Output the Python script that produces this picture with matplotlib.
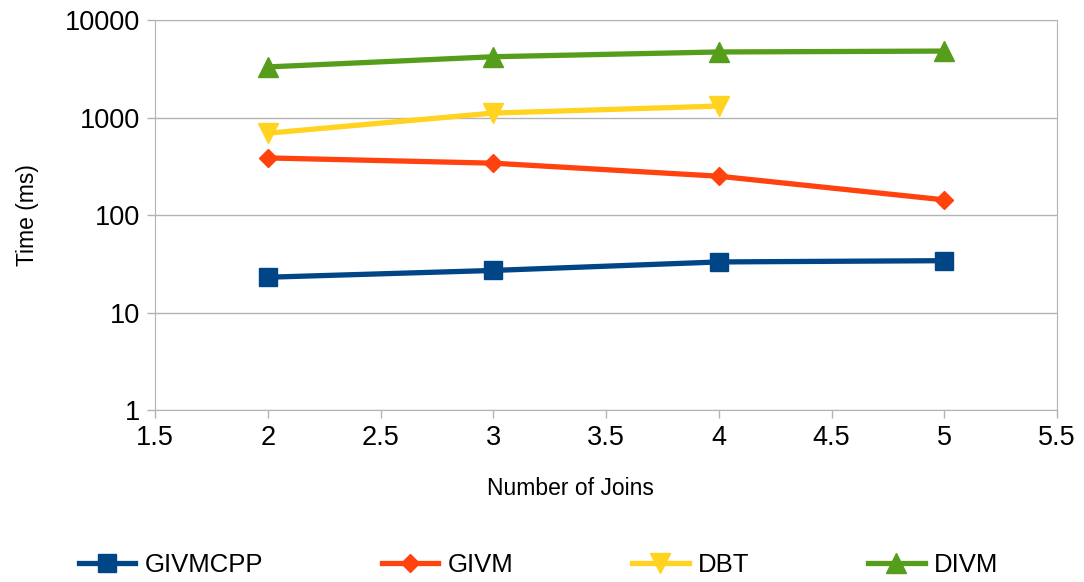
import matplotlib.pyplot as plt

plt.rcParams['font.family'] = ['Liberation Sans', 'DejaVu Sans']

joins = [2, 3, 4, 5]
givmcpp = [23, 27, 33, 34]
givm = [385, 340, 250, 143]
dbt_joins = [2, 3, 4]
dbt = [690, 1110, 1310]
divm = [3300, 4200, 4700, 4800]

fig = plt.figure(figsize=(10.84, 5.82), dpi=100)
ax = fig.add_axes([155/1084, 1-410/582, (1057-155)/1084, (410-20)/582])

ax.plot(joins, givmcpp, color='#004586', lw=3.8, marker='s', ms=13, label='GIVMCPP')
ax.plot(joins, givm, color='#ff420e', lw=3.8, marker='D', ms=9, label='GIVM')
ax.plot(dbt_joins, dbt, color='#ffd320', lw=3.8, marker='v', ms=14, label='DBT')
ax.plot(joins, divm, color='#579d1c', lw=3.8, marker='^', ms=14, label='DIVM')

ax.set_yscale('log')
ax.set_ylim(1, 10000)
ax.set_xlim(1.5, 5.5)
ax.set_xticks([1.5, 2, 2.5, 3, 3.5, 4, 4.5, 5, 5.5])
ax.set_xticklabels(['1.5', '2', '2.5', '3', '3.5', '4', '4.5', '5', '5.5'])
ax.set_yticks([1, 10, 100, 1000, 10000])
ax.set_yticklabels(['1', '10', '100', '1000', '10000'])
ax.minorticks_off()
ax.yaxis.grid(True, color='#b3b3b3', lw=1)
ax.set_axisbelow(True)
for s in ax.spines.values():
    s.set_color('#b3b3b3')
ax.tick_params(colors='#b3b3b3', labelcolor='black', labelsize=19.5, length=6, width=1)
ax.tick_params(axis='x', pad=5)
ax.tick_params(axis='y', pad=5)
ax.set_xlabel('Number of Joins', fontsize=16.5)
ax.xaxis.set_label_coords((570-155)/(1057-155), -(477-410)/(410-20))
ax.set_ylabel('Time (ms)', fontsize=16.5, labelpad=18)

fig.legend(loc='center', ncol=4, frameon=False, fontsize=18.5,
           handlelength=2.2, columnspacing=4.6, handletextpad=0.38,
           bbox_to_anchor=(0.497, 1-565/582))

fig.savefig('out.png', dpi=100)
